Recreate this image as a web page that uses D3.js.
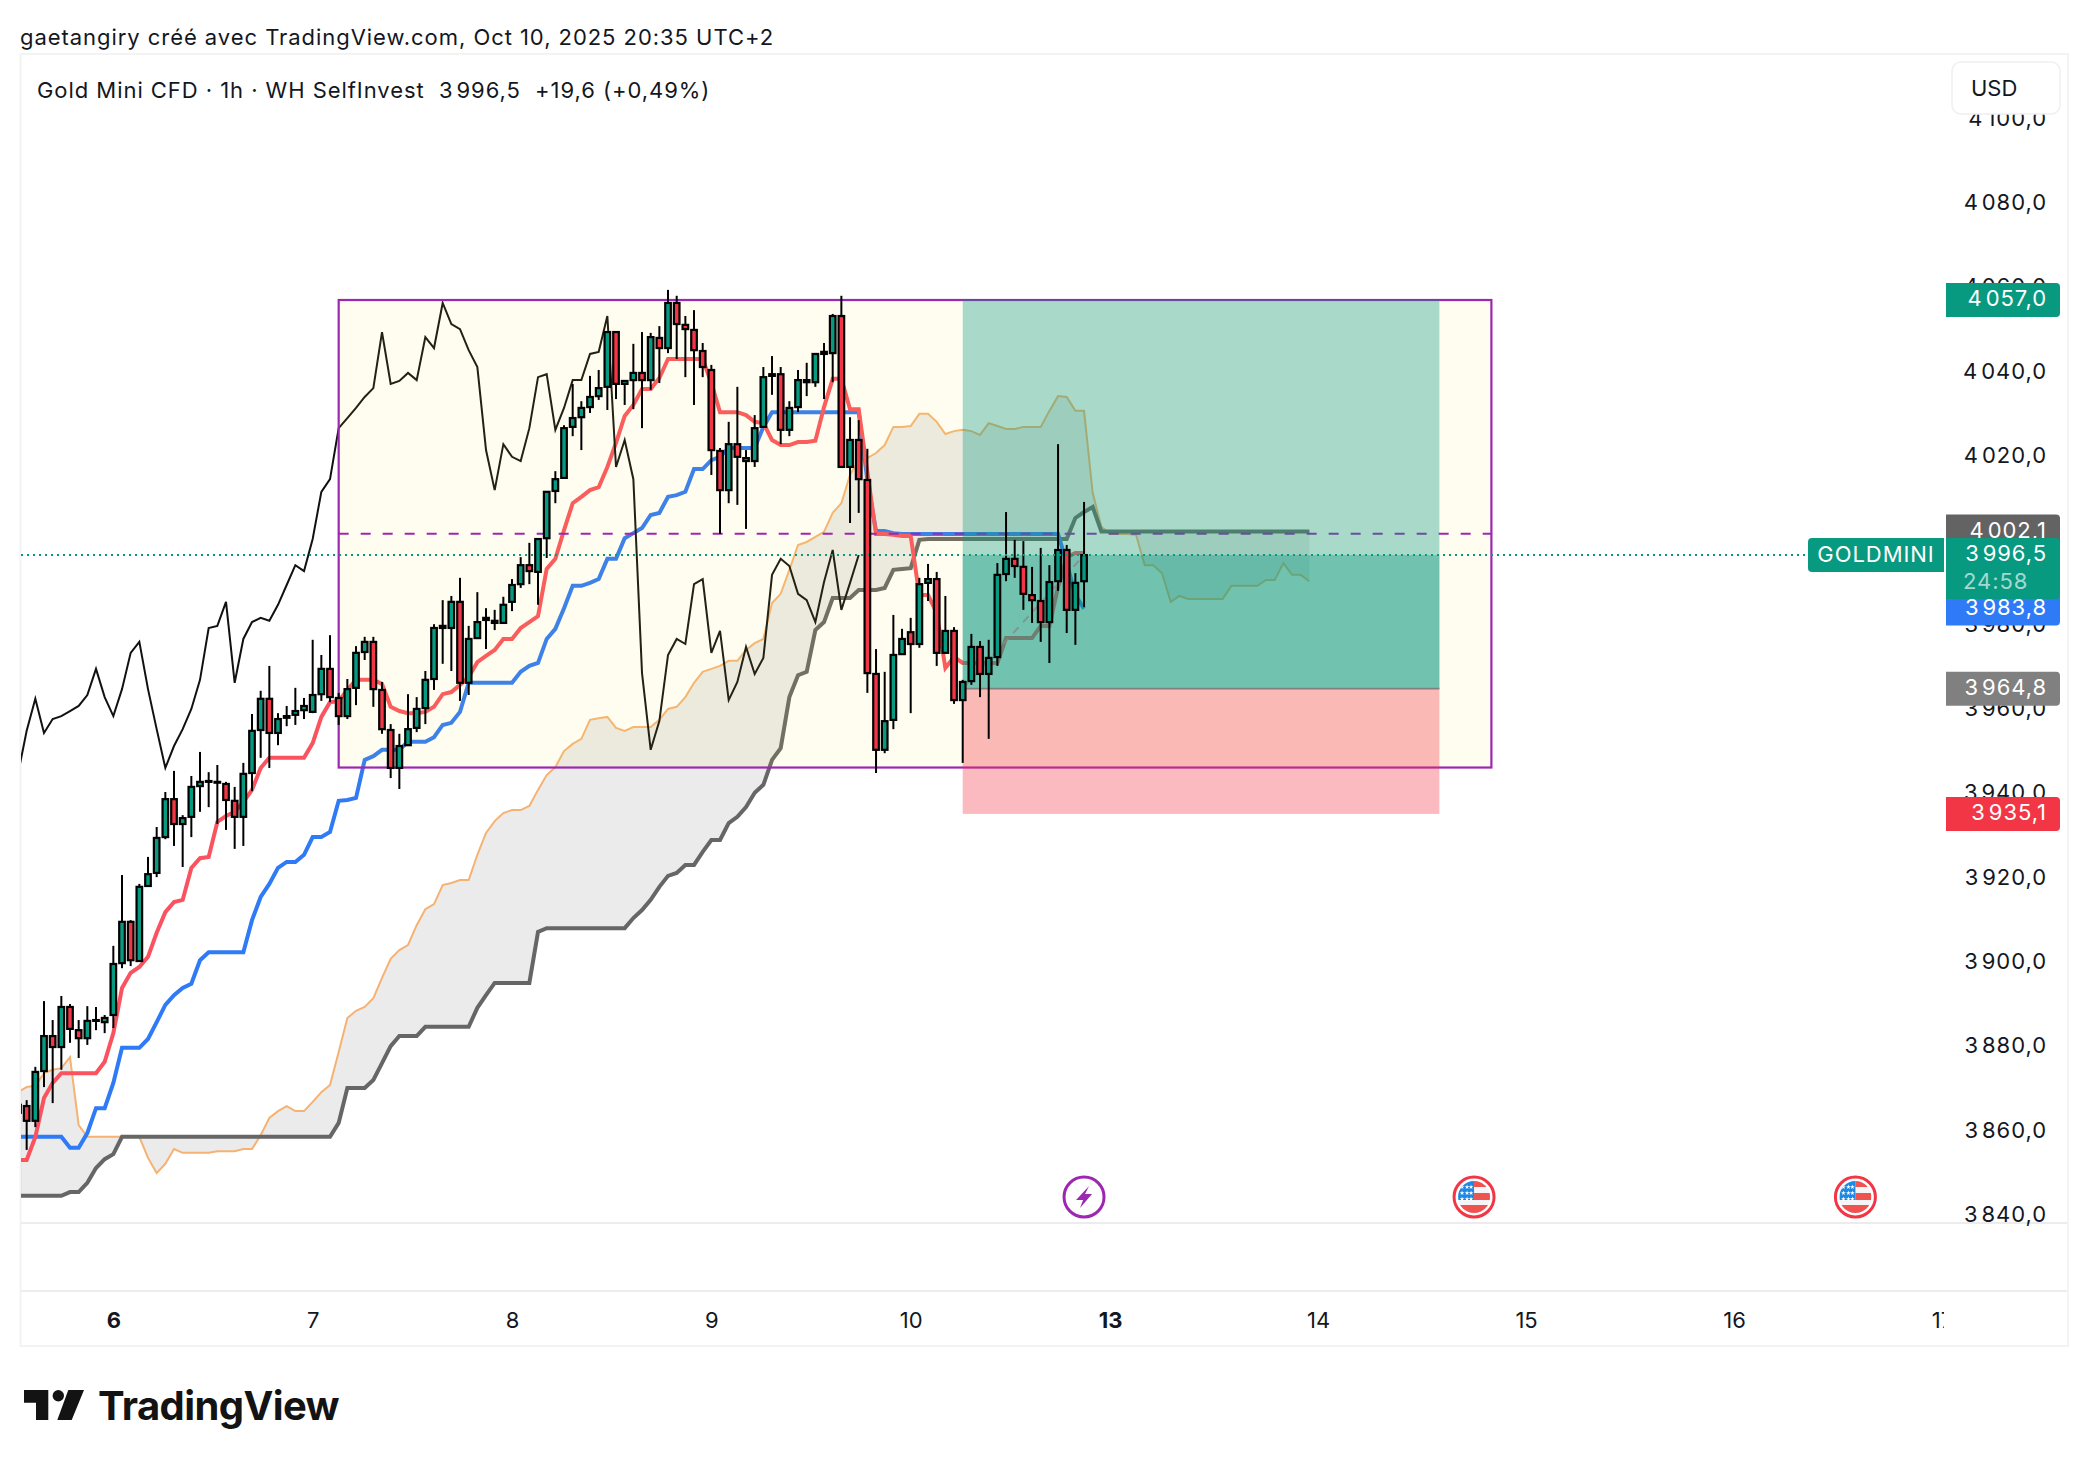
<!DOCTYPE html>
<html>
<head>
<meta charset="utf-8">
<script src="https://d3js.org/d3.v7.min.js"></script>
<style>
  html, body { margin: 0; padding: 0; background: #fff; }
  svg { display: block; }
  text { font-family: Inter, "Noto Sans", sans-serif; fill: #131722; }
</style>
</head>
<body>
<div id="my_dataviz"></div>
<script>

// hourly candles, gold mini cfd
var opens = [3864.2,3865.8,3862.3,3874.1,3882.4,3879.8,3889.3,3883.8,3881.9,3886.0,
  3885.7,3887.4,3899.7,3909.5,3900.2,3918.0,3921.1,3929.6,3938.6,3932.7,
  3934.4,3941.7,3942.7,3942.7,3942.2,3938.2,3934.4,3944.8,3955.0,3962.4,
  3954.3,3957.9,3958.6,3959.7,3959.3,3963.5,3969.5,3962.6,3958.3,3965.0,
  3973.5,3975.9,3964.5,3955.0,3946.0,3951.4,3955.5,3960.2,3967.1,3979.2,
  3979.2,3985.4,3966.2,3976.8,3981.1,3980.4,3980.4,3985.4,3989.6,3994.1,
  3992.5,4000.5,4011.7,4014.8,4026.9,4029.2,4031.6,4034.2,4036.4,4049.4,
  4037.1,4038.0,4039.7,4038.0,4048.0,4045.6,4056.3,4051.1,4049.9,4044.9,
  4040.4,4021.2,4011.9,4022.8,4019.5,4018.8,4026.9,4039.0,4039.4,4026.2,
  4031.6,4037.5,4037.5,4044.2,4044.4,4053.2,4017.4,4023.8,4014.3,3968.3,
  3950.3,3957.4,3973.0,3978.2,3975.4,3989.9,3990.8,3973.3,3978.5,3962.1,
  3966.6,3974.7,3968.3,3972.3,3992.0,3995.6,3993.7,3987.0,3985.6,3980.6,
  3990.3,3997.7,3983.5,3990.3];

var highs = [3867.2,3867.2,3875.1,3890.7,3886.2,3891.9,3890.0,3886.2,3889.5,3889.3,
  3887.4,3903.8,3920.6,3909.9,3918.5,3924.9,3932.0,3940.3,3945.3,3934.8,
  3944.1,3949.8,3945.0,3946.7,3942.7,3941.5,3947.2,3958.8,3964.3,3970.2,
  3959.0,3960.7,3965.0,3962.6,3976.4,3972.8,3977.5,3963.8,3967.1,3974.9,
  3977.1,3977.1,3966.4,3956.4,3954.1,3963.5,3962.8,3969.0,3980.1,3985.8,
  3986.8,3991.1,3979.7,3987.7,3983.9,3983.5,3986.6,3990.8,3996.0,3999.4,
  4000.3,4011.5,4016.4,4027.3,4037.1,4033.0,4039.0,4040.4,4049.4,4049.6,
  4037.8,4046.6,4049.4,4049.2,4050.8,4059.4,4058.0,4053.2,4054.6,4046.8,
  4041.6,4021.9,4028.1,4036.4,4021.4,4029.7,4041.1,4043.7,4041.1,4033.0,
  4040.4,4042.1,4044.2,4046.8,4053.7,4058.0,4029.2,4028.5,4021.7,3974.2,
  3968.8,3982.3,3979.0,3981.6,3991.1,3994.4,3992.5,3986.8,3979.4,3966.9,
  3977.8,3976.1,3976.4,3994.6,4006.7,4000.1,3999.8,3993.7,3998.2,3994.1,
  4022.8,3998.9,3992.2,4009.1];

var lows = [3863.0,3855.4,3860.8,3870.3,3866.5,3874.4,3880.8,3877.2,3880.3,3883.8,
  3883.1,3884.3,3898.5,3899.0,3900.2,3918.0,3920.1,3929.1,3927.5,3922.5,
  3929.6,3935.6,3936.7,3932.7,3931.3,3926.8,3927.5,3940.5,3948.4,3946.0,
  3951.4,3955.9,3956.2,3957.6,3959.0,3961.9,3961.6,3956.2,3957.6,3960.9,
  3971.6,3960.5,3954.1,3943.6,3941.0,3951.4,3954.5,3956.4,3964.5,3970.7,
  3969.0,3961.9,3963.3,3976.8,3974.2,3978.7,3980.4,3983.2,3988.7,3989.6,
  3984.7,3995.8,4008.8,4014.8,4024.7,4021.4,4030.2,4033.3,4030.9,4033.5,
  4032.1,4031.1,4026.6,4035.7,4037.3,4044.4,4043.0,4038.7,4032.1,4038.7,
  4015.5,4001.5,4008.8,4008.4,4002.7,4017.4,4026.9,4034.5,4022.8,4024.7,
  4030.4,4034.2,4036.4,4033.5,4037.5,4017.4,4004.1,4006.5,3963.8,3944.8,
  3949.5,3955.2,3973.0,3959.0,3974.5,3985.6,3970.2,3973.3,3961.2,3947.2,
  3965.7,3962.8,3952.9,3970.2,3990.3,3991.1,3983.5,3980.4,3975.9,3970.9,
  3988.0,3978.0,3975.2,3984.2];

var closes = [3866.1,3862.3,3873.9,3882.4,3879.8,3889.3,3884.1,3881.9,3886.0,3886.2,
  3886.7,3899.5,3909.5,3900.4,3917.8,3920.8,3929.4,3938.6,3932.7,3934.1,
  3941.5,3942.7,3942.9,3942.5,3938.4,3934.4,3944.6,3954.8,3962.4,3954.3,
  3957.6,3958.3,3959.5,3960.7,3963.3,3969.5,3962.8,3958.3,3964.7,3973.3,
  3975.9,3964.7,3955.2,3946.0,3951.2,3955.2,3960.0,3966.9,3979.2,3979.7,
  3985.4,3966.2,3976.6,3980.6,3981.6,3980.9,3984.7,3989.4,3994.1,3992.7,
  4000.3,4011.5,4014.5,4026.6,4029.0,4031.4,4034.0,4036.1,4049.4,4037.1,
  4037.8,4039.7,4038.0,4048.2,4045.6,4056.3,4051.3,4050.1,4045.1,4041.1,
  4021.4,4011.9,4022.8,4019.8,4018.8,4026.6,4038.7,4039.4,4026.2,4031.4,
  4038.0,4038.0,4044.2,4044.7,4053.2,4017.4,4023.8,4014.5,3968.5,3950.3,
  3957.1,3972.8,3976.6,3975.4,3989.6,3990.8,3973.3,3978.5,3962.1,3966.4,
  3974.7,3968.3,3972.1,3991.8,3995.6,3993.9,3987.3,3985.8,3980.6,3990.1,
  3997.7,3983.5,3989.9,3996.5];

// ichimoku lines
var tenkan = [3853.0,3853.0,3858.5,3867.7,3871.3,3873.6,3873.6,3873.6,3873.6,3873.6,
  3876.3,3883.1,3893.8,3897.4,3898.8,3901.2,3906.9,3911.8,3914.2,3914.7,
  3922.3,3924.6,3924.9,3933.2,3934.6,3935.6,3937.9,3940.8,3946.0,3948.4,
  3948.4,3948.4,3948.4,3948.4,3951.9,3958.1,3961.6,3961.9,3964.5,3966.9,
  3966.9,3966.9,3965.9,3960.5,3959.5,3959.0,3959.0,3959.3,3960.5,3963.5,
  3964.0,3965.7,3967.6,3971.1,3972.6,3974.0,3976.6,3976.6,3979.2,3980.6,
  3982.0,3993.2,3995.6,4002.4,4008.8,4010.3,4011.9,4012.6,4017.4,4023.1,
  4029.5,4032.1,4035.9,4035.9,4038.5,4043.0,4043.0,4043.0,4043.0,4043.0,
  4037.3,4030.4,4030.4,4030.4,4029.7,4028.1,4027.8,4023.8,4022.6,4022.6,
  4023.3,4023.3,4023.6,4031.6,4038.3,4038.3,4031.1,4031.1,4016.2,4001.5,
  4001.5,4001.3,4001.0,4001.0,3987.0,3987.0,3982.8,3969.7,3972.3,3970.9,
  3970.9,3970.9,3970.9,3970.9,3976.8,3976.8,3976.8,3976.8,3979.7,3979.7,
  3988.9,3996.0,3997.0,3997.0];

var kijun = [3858.5,3858.5,3858.5,3858.5,3858.5,3858.5,3855.9,3855.9,3859.4,3865.3,
  3865.3,3871.3,3879.6,3879.6,3879.6,3881.7,3885.7,3889.8,3892.1,3893.8,
  3894.8,3900.4,3902.3,3902.3,3902.3,3902.3,3902.3,3909.9,3915.4,3918.5,
  3922.3,3923.7,3923.7,3925.4,3929.6,3929.6,3930.8,3938.2,3938.4,3938.9,
  3947.9,3948.8,3950.3,3950.3,3950.3,3952.2,3952.2,3952.2,3953.3,3956.2,
  3956.7,3959.3,3966.2,3966.2,3966.2,3966.2,3966.2,3966.2,3968.8,3970.2,
  3970.9,3976.6,3979.0,3983.9,3989.2,3989.2,3989.9,3990.8,3995.6,3995.6,
  4000.5,4001.7,4002.9,4006.0,4006.5,4010.3,4010.7,4011.5,4016.9,4016.9,
  4019.0,4019.8,4021.9,4021.9,4021.9,4021.9,4026.9,4030.4,4030.4,4030.4,
  4030.4,4030.4,4030.4,4030.4,4030.4,4030.4,4030.4,4030.4,4014.3,4002.2,
  4002.2,4001.7,4001.5,4001.5,4001.5,4001.5,4001.5,4001.5,4001.5,4001.5,
  4001.5,4001.5,4001.5,4001.5,4001.5,4001.5,4001.5,4001.5,4001.5,4001.5,
  4001.5,3994.6,3987.0,3983.8];

var senkouA = [3869.1,3870.3,3870.6,3873.6,3874.4,3874.8,3877.4,3861.3,3858.5,3858.5,
  3858.5,3858.5,3858.5,3858.5,3858.5,3853.5,3849.9,3852.1,3855.6,3854.7,
  3854.7,3854.7,3854.7,3855.1,3855.1,3855.1,3855.6,3855.6,3858.9,3863.0,
  3864.6,3865.8,3864.6,3864.6,3866.8,3869.1,3870.8,3878.6,3886.7,3888.4,
  3889.3,3891.4,3896.2,3900.7,3902.8,3904.0,3908.7,3912.5,3913.7,3918.2,
  3918.7,3919.4,3919.4,3925.4,3930.6,3933.4,3935.3,3936.0,3936.0,3937.0,
  3940.8,3944.3,3946.2,3950.0,3951.7,3952.9,3957.4,3957.8,3958.1,3955.5,
  3954.8,3955.7,3955.7,3955.7,3957.4,3960.0,3960.5,3962.8,3966.2,3968.8,
  3969.5,3970.2,3971.4,3971.4,3974.0,3975.6,3976.6,3985.1,3987.3,3993.0,
  3998.9,3999.6,4000.8,4002.0,4006.5,4008.8,4015.5,4019.0,4019.5,4020.7,
  4022.6,4026.9,4026.9,4027.1,4030.0,4030.0,4028.1,4025.2,4025.9,4026.2,
  4025.9,4025.0,4027.8,4027.1,4026.4,4026.4,4026.9,4026.9,4026.9,4030.7,
  4034.2,4034.0,4030.7,4030.7,4011.2,4003.2,4001.5,4001.5,4001.5,4001.3,
  3994.1,3994.1,3992.2,3985.4,3986.8,3986.1,3986.1,3986.1,3986.1,3986.1,
  3989.2,3989.2,3989.2,3989.2,3990.6,3990.6,3994.6,3991.8,3991.8,3990.3];

var senkouB = [3844.5,3844.5,3844.5,3844.5,3844.5,3844.5,3845.4,3845.4,3847.6,3851.1,
  3853.2,3854.4,3858.5,3858.5,3858.5,3858.5,3858.5,3858.5,3858.5,3858.5,
  3858.5,3858.5,3858.5,3858.5,3858.5,3858.5,3858.5,3858.5,3858.5,3858.5,
  3858.5,3858.5,3858.5,3858.5,3858.5,3858.5,3858.5,3861.8,3870.1,3870.1,
  3870.1,3872.0,3876.0,3880.0,3882.4,3882.4,3882.4,3884.6,3884.6,3884.6,
  3884.6,3884.6,3884.6,3889.1,3892.1,3895.0,3895.0,3895.0,3895.0,3895.0,
  3907.1,3908.0,3908.0,3908.0,3908.0,3908.0,3908.0,3908.0,3908.0,3908.0,
  3908.0,3910.4,3912.3,3914.7,3917.8,3920.4,3921.1,3923.0,3923.0,3926.1,
  3928.9,3928.9,3932.9,3934.4,3936.7,3940.1,3942.0,3947.9,3950.7,3962.8,
  3968.0,3968.8,3978.7,3980.6,3986.3,3986.3,3986.3,3988.2,3988.2,3988.2,
  3988.7,3993.0,3993.2,3993.4,4000.1,4000.3,4000.3,4000.3,4000.3,4000.3,
  4000.3,4000.3,4000.3,4000.3,4000.3,4000.3,4000.3,4000.3,4000.3,4000.3,
  4000.3,4000.3,4005.3,4006.7,4007.9,4002.1,4002.1,4002.1,4002.1,4002.1,
  4002.1,4002.1,4002.1,4002.1,4002.1,4002.1,4002.1,4002.1,4002.1,4002.1,
  4002.1,4002.1,4002.1,4002.1,4002.1,4002.1,4002.1,4002.1,4002.1,4002.1];

// the chikou line is the close drawn this many bars back
var chikouShift = 26;

// axes
var priceTicks = [3840,3860,3880,3900,3920,3940,3960,3980,4000,4020,4040,4060,4080,4100];
var dayBars = [11,34,57,80,103,126,150,174,198,222];
var dayLabels = ["6","7","8","9","10","13","14","15","16","17"];
var boldDays = ["6","13"];

// drawings
var boxBars = [37, 170];
var boxPrices = [4057, 3946.1];
var tradeBars = [109, 164];
var tradeTarget = 4057.0, tradeEntry = 3964.8, tradeStop = 3935.1;
var lastPrice = 3996.5;
var tradeLineBars = [109, 123];
var tradeLinePrices = [3964.8, 3996.5];
var eventBars = [123, 168, 212];

// price labels on the right
var labelPrices = [4057.0, 4002.1, 3983.8, 3964.8, 3935.1];
var labelColors = ["#089981", "#636363", "#2f7af6", "#808080", "#f23645"];

var width = 2088, height = 1466;
var paneLeft = 21, paneRight = 1944, paneTop = 55, paneBottom = 1222;
var fontSize = "22px", spacing = "0.95px";

var svg = d3.select("#my_dataviz").append("svg")
    .attr("width", width)
    .attr("height", height);

var x = d3.scaleLinear().domain([0, 123]).range([18, 18 + 123 * 8.667]);
var y = d3.scaleLinear().domain([4057, 3935.1]).range([300, 813.9]);

function priceText(v) {
    var s = v.toFixed(1).replace(".", ",");
    return s[0] + "\u200A" + s.slice(1);
}

// white page, frame and pane separators
svg.append("rect").attr("x", 20.5).attr("y", 54).attr("width", 2047.5).attr("height", 1292)
    .attr("fill", "#fff").attr("stroke", "#f3f3f4").attr("stroke-width", 2);
svg.append("line").attr("x1", 21).attr("x2", 2067).attr("y1", 1223).attr("y2", 1223)
    .attr("stroke", "#ececec").attr("stroke-width", 2);
svg.append("line").attr("x1", 21).attr("x2", 2067).attr("y1", 1291).attr("y2", 1291)
    .attr("stroke", "#ececec").attr("stroke-width", 2);

var defs = svg.append("defs");
defs.append("clipPath").attr("id", "pane").append("rect")
    .attr("x", paneLeft).attr("y", paneTop)
    .attr("width", paneRight - paneLeft).attr("height", paneBottom - paneTop);
defs.append("clipPath").attr("id", "timepane").append("rect")
    .attr("x", paneLeft).attr("y", 1292)
    .attr("width", paneRight - paneLeft).attr("height", 54);

var pane = svg.append("g").attr("clip-path", "url(#pane)");

// cloud between the two senkou lines
var cloud = d3.area()
    .x(function (d, i) { return x(i); })
    .y0(function (d) { return y(d); })
    .y1(function (d, i) { return y(senkouB[i]); });
pane.append("path").datum(senkouA)
    .attr("d", cloud)
    .attr("fill", "#646464")
    .attr("fill-opacity", 0.13);

var line = d3.line()
    .x(function (d, i) { return x(i); })
    .y(function (d) { return y(d); });

pane.append("path").datum(senkouA).attr("d", line)
    .attr("fill", "none").attr("stroke", "#f5b273").attr("stroke-width", 2);
pane.append("path").datum(senkouB).attr("d", line)
    .attr("fill", "none").attr("stroke", "#666").attr("stroke-width", 4);
pane.append("path").datum(kijun).attr("d", line)
    .attr("fill", "none").attr("stroke", "#2f7af6").attr("stroke-width", 4);
pane.append("path").datum(tenkan).attr("d", line)
    .attr("fill", "none").attr("stroke", "#f9535f").attr("stroke-width", 4);

// lagging line
pane.append("path").datum(closes.slice(chikouShift)).attr("d", line)
    .attr("fill", "none").attr("stroke", "#111").attr("stroke-width", 2);

// yellow box with its dashed midline
pane.append("rect")
    .attr("x", x(boxBars[0])).attr("y", y(boxPrices[0]))
    .attr("width", x(boxBars[1]) - x(boxBars[0]))
    .attr("height", y(boxPrices[1]) - y(boxPrices[0]))
    .attr("fill", "rgb(255,235,59)").attr("fill-opacity", 0.08)
    .attr("stroke", "#9c27b0").attr("stroke-width", 2.2);
pane.append("line")
    .attr("x1", x(boxBars[0])).attr("x2", x(boxBars[1]))
    .attr("y1", y((boxPrices[0] + boxPrices[1]) / 2)).attr("y2", y((boxPrices[0] + boxPrices[1]) / 2))
    .attr("stroke", "#9c27b0").attr("stroke-width", 2.2).attr("stroke-dasharray", "10 12");

// long position tool
var tradeX = x(tradeBars[0]), tradeW = x(tradeBars[1]) - x(tradeBars[0]);
pane.append("rect").attr("x", tradeX).attr("width", tradeW)
    .attr("y", y(tradeTarget)).attr("height", y(tradeEntry) - y(tradeTarget))
    .attr("fill", "#089981").attr("fill-opacity", 0.35);
pane.append("rect").attr("x", tradeX).attr("width", tradeW)
    .attr("y", y(tradeEntry)).attr("height", y(tradeStop) - y(tradeEntry))
    .attr("fill", "#f23645").attr("fill-opacity", 0.34);
pane.append("rect").attr("x", tradeX).attr("width", tradeW)
    .attr("y", y(lastPrice)).attr("height", y(tradeEntry) - y(lastPrice))
    .attr("fill", "#089981").attr("fill-opacity", 0.35);
pane.append("line").attr("x1", tradeX).attr("x2", tradeX + tradeW)
    .attr("y1", y(tradeEntry)).attr("y2", y(tradeEntry))
    .attr("stroke", "#808080").attr("stroke-width", 1.8);
pane.append("line")
    .attr("x1", x(tradeLineBars[0])).attr("x2", x(tradeLineBars[1]))
    .attr("y1", y(tradeLinePrices[0])).attr("y2", y(tradeLinePrices[1]))
    .attr("stroke", "#888").attr("stroke-opacity", 0.8).attr("stroke-width", 2)
    .attr("stroke-dasharray", "8 7");

// candles
var bars = pane.append("g").selectAll("g")
    .data(closes)
    .enter()
    .append("g");

bars.append("line")
    .attr("x1", function (d, i) { return x(i); })
    .attr("x2", function (d, i) { return x(i); })
    .attr("y1", function (d, i) { return y(highs[i]); })
    .attr("y2", function (d, i) { return y(lows[i]); })
    .attr("stroke", "#000")
    .attr("stroke-width", 2);

bars.append("rect")
    .attr("x", function (d, i) { return x(i) - 2.8; })
    .attr("width", 5.6)
    .attr("y", function (d, i) { return y(Math.max(opens[i], closes[i])); })
    .attr("height", function (d, i) { return Math.abs(y(opens[i]) - y(closes[i])); })
    .attr("fill", function (d, i) { return closes[i] >= opens[i] ? "#089981" : "#f23645"; })
    .attr("stroke", "#000")
    .attr("stroke-width", 2.2);

// dotted last price line
svg.append("line")
    .attr("x1", paneLeft).attr("x2", 1805)
    .attr("y1", y(lastPrice)).attr("y2", y(lastPrice))
    .attr("stroke", "#089981").attr("stroke-width", 2).attr("stroke-dasharray", "2 4");

// price axis
var yAxis = svg.append("g")
    .attr("transform", "translate(2047,0)")
    .call(d3.axisRight(y).tickValues(priceTicks).tickSize(0).tickFormat(priceText));
yAxis.select(".domain").remove();
yAxis.selectAll("text")
    .attr("x", 0)
    .attr("dy", "0.3em")
    .attr("text-anchor", "end")
    .style("font-size", fontSize)
    .style("font-family", "Inter")
    .style("letter-spacing", spacing)
    .style("fill", "#131722");

// time axis
var xAxis = svg.append("g")
    .attr("clip-path", "url(#timepane)")
    .append("g")
    .attr("transform", "translate(0,1320)")
    .call(d3.axisBottom(x).tickValues(dayBars).tickSize(0)
        .tickFormat(function (d) { return dayLabels[dayBars.indexOf(d)]; }));
xAxis.select(".domain").remove();
xAxis.selectAll("text")
    .attr("y", 0)
    .attr("dy", "0.36em")
    .style("font-size", fontSize)
    .style("font-family", "Inter")
    .style("font-weight", function (d) { return boldDays.indexOf(dayLabels[dayBars.indexOf(d)]) >= 0 ? 700 : 400; })
    .style("fill", "#131722");

// price tags, drawn over the tick labels
function rightTag(v, color) {
    var cy = y(v);
    svg.append("path")
        .attr("d", "M1946 " + (cy - 17) + "H2056a4 4 0 0 1 4 4V" + (cy + 13) + "a4 4 0 0 1 -4 4H1946Z")
        .attr("fill", color);
    svg.append("text").attr("x", 2047).attr("y", cy - 1.5).attr("dy", "0.35em")
        .attr("text-anchor", "end")
        .style("font-size", fontSize).style("letter-spacing", spacing).style("fill", "#fff")
        .text(priceText(v));
}
labelPrices.forEach(function (v, i) { rightTag(v, labelColors[i]); });

// current price tag has the countdown under it
var lastY = y(lastPrice);
svg.append("path")
    .attr("d", "M1946 " + (lastY - 17) + "H2056a4 4 0 0 1 4 4V" + (lastY + 40) + "a4 4 0 0 1 -4 4H1946Z")
    .attr("fill", "#089981");
svg.append("text").attr("x", 2047).attr("y", lastY - 2).attr("dy", "0.35em")
    .attr("text-anchor", "end")
    .style("font-size", fontSize).style("letter-spacing", spacing).style("fill", "#fff")
    .text(priceText(lastPrice));
svg.append("text").attr("x", 1963).attr("y", lastY + 26).attr("dy", "0.35em")
    .style("font-size", fontSize).style("letter-spacing", spacing).style("fill", "#fff").style("fill-opacity", 0.65)
    .text("24:58");
svg.append("path")
    .attr("d", "M1944 " + (lastY - 17) + "H1812a4 4 0 0 0 -4 4V" + (lastY + 13) + "a4 4 0 0 0 4 4H1944Z")
    .attr("fill", "#089981");
svg.append("text").attr("x", 1876).attr("y", lastY - 1).attr("dy", "0.35em")
    .attr("text-anchor", "middle")
    .style("font-size", fontSize).style("letter-spacing", spacing).style("fill", "#fff")
    .text("GOLDMINI");

// currency box
svg.append("rect").attr("x", 1952).attr("y", 62).attr("width", 108).attr("height", 52).attr("rx", 9)
    .attr("fill", "#fff").attr("stroke", "#f0f0f2").attr("stroke-width", 1.5);
svg.append("text").attr("x", 1971).attr("y", 88).attr("dy", "0.36em")
    .style("font-size", fontSize).text("USD");

// event markers
var eventY = 1197;
function usFlag(cx, id) {
    defs.append("clipPath").attr("id", id).append("circle")
        .attr("cx", cx).attr("cy", eventY).attr("r", 16);
    var g = svg.append("g");
    g.append("circle").attr("cx", cx).attr("cy", eventY).attr("r", 20)
        .attr("fill", "#fff").attr("stroke", "#f23645").attr("stroke-width", 3);
    var f = g.append("g").attr("clip-path", "url(#" + id + ")");
    f.append("rect").attr("x", cx - 16).attr("y", eventY - 16).attr("width", 32).attr("height", 32).attr("fill", "#f5f5f7");
    f.append("rect").attr("x", cx).attr("y", eventY - 16).attr("width", 16).attr("height", 6).attr("fill", "#ef5350");
    f.append("rect").attr("x", cx).attr("y", eventY - 4).attr("width", 16).attr("height", 7).attr("fill", "#ef5350");
    f.append("rect").attr("x", cx - 16).attr("y", eventY + 8).attr("width", 32).attr("height", 8).attr("fill", "#ef5350");
    f.append("rect").attr("x", cx - 16).attr("y", eventY - 16).attr("width", 16).attr("height", 19).attr("fill", "#1e88e5");
    [-10, -4, 2].forEach(function (sy) {
        [-12, -7, -3].forEach(function (sx) {
            f.append("path")
                .attr("d", d3.symbol().type(d3.symbolStar).size(7)())
                .attr("transform", "translate(" + (cx + sx) + "," + (eventY + sy) + ")")
                .attr("fill", "#fff");
        });
    });
}
var boltX = x(eventBars[0]);
svg.append("circle").attr("cx", boltX).attr("cy", eventY).attr("r", 20)
    .attr("fill", "#fff").attr("stroke", "#9c27b0").attr("stroke-width", 3);
svg.append("path")
    .attr("transform", "translate(" + boltX + "," + eventY + ")")
    .attr("d", "M5 -11L-8 3H-1L-4 11L8 -3H1Z")
    .attr("fill", "#9c27b0");
usFlag(x(eventBars[1]), "flag1");
usFlag(x(eventBars[2]), "flag2");

// titles
svg.append("text").attr("x", 20).attr("y", 37).attr("dy", "0.36em")
    .style("font-size", fontSize).style("letter-spacing", spacing)
    .text("gaetangiry créé avec TradingView.com, Oct 10, 2025 20:35 UTC+2");
svg.append("text").attr("x", 37).attr("y", 90).attr("dy", "0.36em")
    .style("font-size", fontSize).style("letter-spacing", spacing)
    .style("white-space", "pre")
    .text("Gold Mini CFD · 1h · WH SelfInvest  3\u200A996,5  +19,6 (+0,49%)");

// tradingview logo
var logo = svg.append("g").attr("fill", "#131313");
logo.append("path").attr("d", "M24 1390H48.3V1420H36V1402.7H24Z");
logo.append("circle").attr("cx", 58.3).attr("cy", 1395.7).attr("r", 5.7);
logo.append("path").attr("d", "M68.3 1390H84L71.7 1420H57.3Z");
svg.append("text").attr("x", 98).attr("y", 1419.5)
    .style("font-size", "40px").style("font-weight", 700).style("letter-spacing", "-0.6px")
    .style("fill", "#131313")
    .text("TradingView");

</script>
</body>
</html>
